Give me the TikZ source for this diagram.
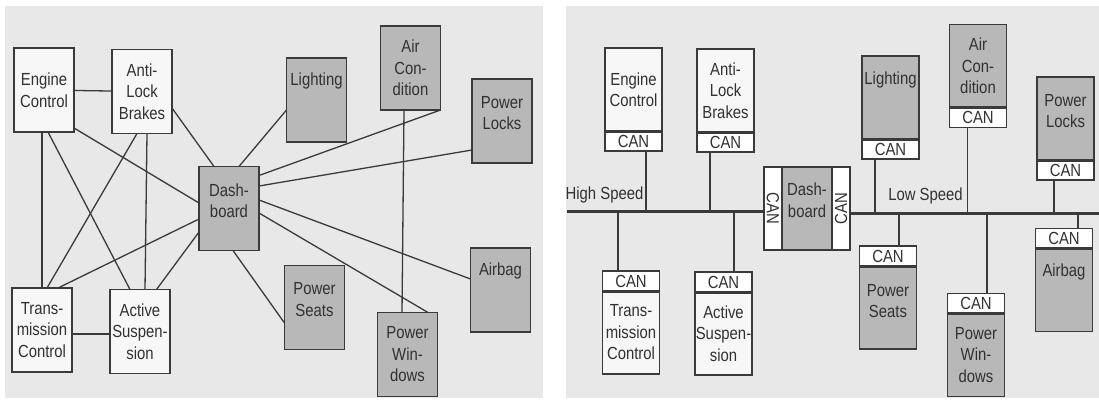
\documentclass[tikz,border=0pt]{standalone}
\usepackage{fontspec}
\setmainfont{Liberation Sans}[FakeStretch=0.85]
\usepackage{tikz}
\usetikzlibrary{positioning}
\definecolor{panel}{HTML}{E8E8E8}
\definecolor{boxw}{HTML}{F7F7F7}
\definecolor{boxg}{HTML}{B8B8B8}
\definecolor{ink}{HTML}{3A3A3A}

\begin{document}
\begin{tikzpicture}[x=1pt,y=-1pt,
  every node/.style={font=\fontsize{17.5}{21.5}\selectfont,text=ink!85!black,
    align=center,inner sep=0pt,outer sep=0pt},
  wbox/.style={draw=ink,line width=1.3pt,fill=boxw,minimum width=60,minimum height=84},
  gbox/.style={wbox,fill=boxg},
  wecu/.style={wbox,minimum width=57,minimum height=83},
  gecu/.style={wecu,fill=boxg},
  can/.style={draw=ink,line width=1.3pt,fill=white,minimum width=57,minimum height=20},
  sep/.style={draw=ink,line width=3pt},
  wire/.style={draw=ink,line width=1.3pt},
  bus/.style={draw=ink,line width=3pt}]
\useasboundingbox (0,0) rectangle (1099,399);
\fill[panel] (5,6) rectangle (543,398);
\fill[panel] (566,6) rectangle (1099,398);

% point to point wiring
\node[wbox] (eng) at (44,90) {Engine\\Control};
\node[wbox] (abs) at (142,91.5) {Anti-\\Lock\\Brakes};
\node[gbox] (light) at (316.5,100) {};
\node[yshift=19] (light-t) at (light) {Lighting};
\node[gbox] (air) at (410.5,68) {Air\\Con-\\dition};
\node[gbox] (lock) at (502,121) {};
\node[yshift=8] (lock-t) at (lock) {Power\\Locks};
\node[gbox] (dash) at (229,208.5) {};
\node[yshift=8] (dash-t) at (dash) {Dash-\\board};
\node[wbox] (trans) at (42,330) {Trans-\\mission\\Control};
\node[wbox] (act) at (140,331.5) {Active\\Suspen-\\sion};
\node[gbox] (seat) at (314.5,307.5) {};
\node[yshift=8] (seat-t) at (seat) {Power\\Seats};
\node[gbox] (win) at (407.5,354.5) {Power\\Win-\\dows};
\node[gbox] (bag) at (500.5,290) {};
\node[yshift=19] (bag-t) at (bag) {Airbag};

\draw[wire] (eng) -- (abs);
\draw[wire] (eng.south -| trans) -- (trans.north);
\draw[wire] ([xshift=4]eng.south) -- ([xshift=-10]act.north);
\draw[wire] ([yshift=4]eng.south east) -- ([yshift=5.5]dash.west);
\draw[wire] ([xshift=-5]abs.south) -- ([xshift=5]trans.north);
\draw[wire] ([xshift=5]abs.south) -- ([xshift=5]act.north);
\draw[wire] ([yshift=-16.5]abs.east) -- ([xshift=-15]dash.north);
\draw[wire] ([yshift=-10]light.west) -- ([xshift=10]dash.north);
\draw[wire] (air.south east) -- ([yshift=-9]dash.north east);
\draw[wire] ([xshift=-6.5]air.south) -- ([xshift=-5.5]win.north);
\draw[wire] ([yshift=-29]lock.west) -- ([yshift=22.5]dash.east);
\draw[wire] ([yshift=8.5]dash.east) -- ([yshift=11]bag.west);
\draw[wire] ([yshift=-4.5]dash.east) -- ([xshift=20.5]win.north);
\draw[wire] ([xshift=4]dash.south) -- ([yshift=-15.5]seat.west);
\draw[wire] ([yshift=-10.5]dash.west) -- ([xshift=16]trans.north);
\draw[wire] ([yshift=-23.5]dash.west) -- ([xshift=16.5]act.north);
\draw[wire] ([yshift=-4]trans.east) -- ([yshift=-2.5]act.west);

% CAN bus version
\node[wecu] (eng2) at (633.5,89.5) {Engine\\Control};
\node[can,below=0pt of eng2] (eng2c) {CAN};
\node[wecu] (abs2) at (725.5,90.5) {Anti-\\Lock\\Brakes};
\node[can,below=0pt of abs2] (abs2c) {CAN};
\node[gecu] (light2) at (890.5,97.5) {};
\node[yshift=17.5] (light2-t) at (light2) {Lighting};
\node[can,below=0pt of light2] (light2c) {CAN};
\node[gecu] (air2) at (978,66) {Air\\Con-\\dition};
\node[can,below=0pt of air2] (air2c) {CAN};
\node[gecu] (lock2) at (1065.5,118.5) {};
\node[yshift=7.5] (lock2-t) at (lock2) {Power\\Locks};
\node[can,below=0pt of lock2] (lock2c) {CAN};
\foreach \n in {eng2,abs2,light2,air2,lock2}
  \draw[sep] (\n.south west) -- (\n.south east);

\node[can] (trans2c) at (631,281) {CAN};
\node[wecu,below=0pt of trans2c] (trans2) {Trans-\\mission\\Control};
\node[can] (act2c) at (723.5,282) {CAN};
\node[wecu,below=0pt of act2c] (act2) {Active\\Suspen-\\sion};
\node[can] (seat2c) at (888,256) {CAN};
\node[gecu,below=0pt of seat2c] (seat2) {};
\node[yshift=6.5] (seat2-t) at (seat2) {Power\\Seats};
\node[can] (win2c) at (976,303.5) {CAN};
\node[gecu,below=0pt of win2c] (win2) {Power\\Win-\\dows};
\node[can] (bag2c) at (1064,238.5) {CAN};
\node[gecu,below=0pt of bag2c] (bag2) {};
\node[yshift=18.5] (bag2-t) at (bag2) {Airbag};
\foreach \n in {trans2,act2,seat2,win2,bag2}
  \draw[sep] (\n.north west) -- (\n.north east);

\node[gecu,minimum width=50] (dash2) at (807,208.5) {};
\node[yshift=8.5] (dash2-t) at (dash2) {Dash-\\board};
\node[can,rotate=-90,minimum width=83,minimum height=18] (dash2l) at ([xshift=-9]dash2.west) {CAN};
\node[can,rotate=90,minimum width=83,minimum height=18] (dash2r) at ([xshift=9]dash2.east) {CAN};

\coordinate (hs) at (567,211);
\coordinate (ls) at (1099,213);
\draw[bus] (hs) -- (hs -| dash2l.south);
\draw[bus] (dash2r.south |- ls) -- (ls);
\node (hs-t) at (604.5,195) {High Speed};
\node (ls-t) at (925.5,196) {Low Speed};

\foreach \n/\x in {eng2c/646,abs2c/710}
  \draw[wire] (\n.south -| \x,0) -- (hs -| \x,0);
\foreach \n/\x in {light2c/875,air2c/967.5,lock2c/1054}
  \draw[wire] (\n.south -| \x,0) -- (ls -| \x,0);
\foreach \n/\x in {trans2c/618,act2c/734}
  \draw[wire] (hs -| \x,0) -- (\n.north -| \x,0);
\foreach \n/\x in {seat2c/899,win2c/987,bag2c/1078}
  \draw[wire] (ls -| \x,0) -- (\n.north -| \x,0);
\end{tikzpicture}
\end{document}
